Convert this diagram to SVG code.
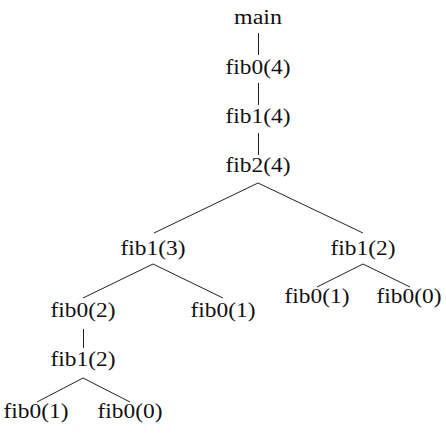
<svg xmlns="http://www.w3.org/2000/svg" width="446" height="437" viewBox="0 0 446 437">
<style>
text{font-family:"Liberation Serif","Times New Roman",serif;font-size:20px;fill:#111;text-anchor:middle}
.e line{stroke:#222;stroke-width:1}
</style>
<rect width="446" height="437" fill="#fff"/>
<g class="e" id="edges">
<line x1="258.5" y1="33" x2="258.5" y2="55"/>
<line x1="258.5" y1="83" x2="258.5" y2="105"/>
<line x1="258.5" y1="133" x2="258.5" y2="155"/>
<line x1="258" y1="183" x2="154" y2="233"/>
<line x1="258" y1="183" x2="363" y2="233"/>
<line x1="153" y1="264" x2="83" y2="298"/>
<line x1="153" y1="264" x2="223" y2="298"/>
<line x1="363" y1="264" x2="317" y2="287"/>
<line x1="363" y1="264" x2="410" y2="287"/>
<line x1="83.5" y1="329" x2="83.5" y2="348"/>
<line x1="83" y1="378" x2="37" y2="402"/>
<line x1="83" y1="378" x2="130" y2="402"/>
</g>
<g id="n_main"><text x="258" y="24" textLength="48" lengthAdjust="spacingAndGlyphs">main</text></g>
<g id="n_fib0_4"><text x="258" y="74" textLength="65" lengthAdjust="spacingAndGlyphs">fib0(4)</text></g>
<g id="n_fib1_4"><text x="258" y="123" textLength="65" lengthAdjust="spacingAndGlyphs">fib1(4)</text></g>
<g id="n_fib2_4"><text x="258" y="172" textLength="65" lengthAdjust="spacingAndGlyphs">fib2(4)</text></g>
<g id="n_fib1_3"><text x="153" y="255" textLength="65" lengthAdjust="spacingAndGlyphs">fib1(3)</text></g>
<g id="n_fib1_2a"><text x="363" y="255" textLength="65" lengthAdjust="spacingAndGlyphs">fib1(2)</text></g>
<g id="n_fib0_2"><text x="83" y="317" textLength="65" lengthAdjust="spacingAndGlyphs">fib0(2)</text></g>
<g id="n_fib0_1a"><text x="223" y="317" textLength="65" lengthAdjust="spacingAndGlyphs">fib0(1)</text></g>
<g id="n_fib0_1b"><text x="317" y="303" textLength="65" lengthAdjust="spacingAndGlyphs">fib0(1)</text></g>
<g id="n_fib0_0a"><text x="409" y="303" textLength="65" lengthAdjust="spacingAndGlyphs">fib0(0)</text></g>
<g id="n_fib1_2b"><text x="83" y="366" textLength="65" lengthAdjust="spacingAndGlyphs">fib1(2)</text></g>
<g id="n_fib0_1c"><text x="36" y="418" textLength="65" lengthAdjust="spacingAndGlyphs">fib0(1)</text></g>
<g id="n_fib0_0b"><text x="130" y="418" textLength="65" lengthAdjust="spacingAndGlyphs">fib0(0)</text></g>
</svg>
